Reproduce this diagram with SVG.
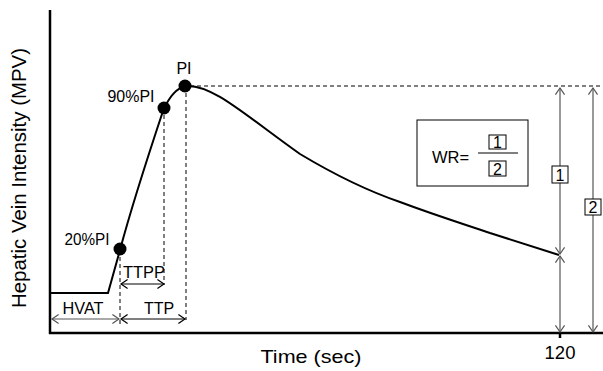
<svg xmlns="http://www.w3.org/2000/svg" width="603" height="371" viewBox="0 0 603 371">
<defs>
<marker id="ah" markerUnits="userSpaceOnUse" markerWidth="12" markerHeight="12" viewBox="-7 -5 8 10" refX="0" refY="0" orient="auto-start-reverse">
<path d="M-5.5,-3.8 L0,0 L-5.5,3.8" fill="none" stroke="#000" stroke-width="1"/>
</marker>
<marker id="ahg" markerUnits="userSpaceOnUse" markerWidth="12" markerHeight="12" viewBox="-7 -5 8 10" refX="0" refY="0" orient="auto-start-reverse">
<path d="M-5.5,-3.8 L0,0 L-5.5,3.8" fill="none" stroke="#555" stroke-width="1"/>
</marker>
</defs>
<style>
text{font-family:"Liberation Sans",Arial,sans-serif;fill:#000}
.lbl{font-size:16px}
.dig{font-size:16px}
.big{font-size:18.5px}
.dash{stroke:#000;stroke-width:1;stroke-dasharray:4,3;fill:none}
.arr{stroke:#000;stroke-width:1;fill:none;marker-start:url(#ah);marker-end:url(#ah)}
.arrg{stroke:#555;stroke-width:1.2;fill:none;marker-start:url(#ahg);marker-end:url(#ahg)}
.box{fill:#fff;stroke:#000;stroke-width:1}
.dot{fill:#000}
</style>
<rect width="603" height="371" fill="#fff"/>
<g id="axes">
<line x1="50" y1="10" x2="50" y2="334" stroke="#000" stroke-width="2.5"/>
<line x1="49" y1="333" x2="603" y2="333" stroke="#000" stroke-width="2.5"/>
<line x1="560" y1="333" x2="560" y2="338" stroke="#000" stroke-width="2.5"/>
<text class="big" x="560" y="359" text-anchor="middle">120</text>
<text class="big" x="311" y="363" text-anchor="middle" textLength="101" lengthAdjust="spacingAndGlyphs">Time (sec)</text>
<text transform="translate(26,178) rotate(-90)" text-anchor="middle" style="font-size:19.5px" textLength="260" lengthAdjust="spacingAndGlyphs">Hepatic Vein Intensity (MPV)</text>
</g>
<g id="curve">
<path d="M50,293 L108,293 L120,250 C132,205 150,150 164,108 C170,97 176,88 186,86 C212,84 245,115 300,154 C335,175 365,190 400,202 C440,217 470,226 490,233 L559,255" fill="none" stroke="#000" stroke-width="2"/>
</g>
<g id="connectors">
<line class="dash" x1="190" y1="86" x2="603" y2="86"/>
<line class="dash" x1="120" y1="250" x2="120" y2="326"/>
<line class="dash" x1="164" y1="108" x2="164" y2="285"/>
<line class="dash" x1="186" y1="86" x2="186" y2="320"/>
<line class="arrg" x1="52" y1="319" x2="119" y2="319"/>
<line class="arr" x1="121" y1="319" x2="185" y2="319"/>
<line class="arr" x1="121" y1="284" x2="164" y2="284"/>
<line class="arrg" x1="560" y1="88" x2="560" y2="254"/>
<line class="arrg" x1="560" y1="256" x2="560" y2="332"/>
<line class="arrg" x1="593" y1="88" x2="593" y2="332"/>
</g>
<g id="p20">
<circle class="dot" cx="120" cy="249" r="6.5"/>
<text class="lbl" x="87" y="245" text-anchor="middle" textLength="45" lengthAdjust="spacingAndGlyphs">20%PI</text>
</g>
<g id="p90">
<circle class="dot" cx="164" cy="108" r="6.5"/>
<text class="lbl" x="131" y="102" text-anchor="middle" textLength="47" lengthAdjust="spacingAndGlyphs">90%PI</text>
</g>
<g id="pi">
<circle class="dot" cx="185" cy="86" r="6.5"/>
<text class="lbl" x="184" y="74" text-anchor="middle">PI</text>
</g>
<g id="labels">
<text class="lbl" x="83" y="314" text-anchor="middle" textLength="41" lengthAdjust="spacingAndGlyphs">HVAT</text>
<text class="lbl" x="159" y="314" text-anchor="middle">TTP</text>
<text class="lbl" x="144" y="278" text-anchor="middle" textLength="42" lengthAdjust="spacingAndGlyphs">TTPP</text>
</g>
<g id="box1">
<rect class="box" x="552" y="166" width="16" height="17"/>
<text class="dig" x="560" y="180.5" text-anchor="middle">1</text>
</g>
<g id="box2">
<rect class="box" x="585" y="199" width="16" height="16"/>
<text class="dig" x="593" y="213" text-anchor="middle">2</text>
</g>
<g id="wr">
<rect x="417" y="120" width="111" height="66" fill="#fff" stroke="#000" stroke-width="1"/>
<text x="432" y="163" style="font-size:16.5px">WR=</text>
<line x1="478" y1="153" x2="518" y2="153" stroke="#000" stroke-width="1"/>
<rect class="box" x="489" y="135" width="17" height="14"/>
<text class="dig" x="497.5" y="148" text-anchor="middle">1</text>
<rect class="box" x="489" y="161" width="17" height="15"/>
<text class="dig" x="497.5" y="174.5" text-anchor="middle">2</text>
</g>
</svg>
